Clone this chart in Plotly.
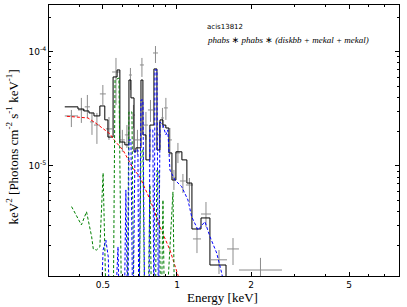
import numpy as np
import plotly.graph_objects as go

# ---- observed spectrum (keV ; keV^2 photons cm^-2 s^-1 keV^-1) ----
e_lo = [0.350, 0.396, 0.422, 0.443, 0.460, 0.486, 0.514, 0.545, 0.586, 0.614,
        0.638, 0.656, 0.675, 0.707, 0.734, 0.762, 0.799, 0.837, 0.861, 0.885,
        0.918, 0.954, 0.990, 1.028, 1.087, 1.161, 1.252, 1.374, 1.597, 1.786]
e_hi = [0.396, 0.422, 0.443, 0.460, 0.486, 0.514, 0.545, 0.586, 0.614, 0.638,
        0.656, 0.675, 0.707, 0.734, 0.762, 0.799, 0.837, 0.861, 0.885, 0.918,
        0.954, 0.990, 1.028, 1.087, 1.161, 1.252, 1.374, 1.597, 1.786, 2.67]
flux = [2.74e-5, 3.09e-5, 3.29e-5, 2.43e-5, 2.28e-5, 4.27e-5, 2.11e-5, 6.64e-5, 1.69e-5, 1.87e-5,
        6.25e-5, 2.79e-5, 1.69e-5, 7.65e-5, 2.28e-5, 3.09e-5, 9.74e-5, 1.87e-5, 2.63e-5, 3.22e-5,
        1.69e-5, 7.85e-6, 1.30e-5, 7.39e-6, 6.82e-6, 2.30e-6, 3.80e-6, 1.51e-6, 1.88e-6, 1.23e-6]
flux_up = [3.09e-5, 3.94e-5, 4.18e-5, 2.91e-5, 2.91e-5, 5.11e-5, 2.68e-5, 8.81e-5, 2.07e-5, 2.28e-5,
           7.20e-5, 3.42e-5, 2.07e-5, 8.81e-5, 2.97e-5, 3.78e-5, 1.12e-4, 2.43e-5, 3.22e-5, 3.94e-5,
           2.15e-5, 9.23e-6, 1.59e-5, 8.51e-6, 7.85e-6, 2.87e-6, 4.84e-6, 1.84e-6, 2.34e-6, 1.57e-6]
flux_dn = [2.19e-5, 2.38e-5, 2.63e-5, 1.87e-5, 1.56e-5, 3.42e-5, 1.69e-5, 3.42e-5, 1.33e-5, 1.44e-5,
           4.62e-5, 2.15e-5, 1.25e-5, 6.01e-5, 1.69e-5, 2.43e-5, 7.96e-5, 1.38e-5, 2.15e-5, 2.53e-5,
           1.25e-5, 6.17e-6, 1.06e-5, 5.80e-6, 4.75e-6, 1.73e-6, 2.93e-6, 1.135e-6, 1.36e-6, 9.1e-7]

# ---- total model (binned) ----
model_edges = [0.350, 0.396, 0.418, 0.439, 0.460, 0.486, 0.509, 0.524, 0.550, 0.571,
               0.586, 0.614, 0.638, 0.650, 0.669, 0.681, 0.714, 0.727, 0.748, 0.776,
               0.806, 0.829, 0.853, 0.877, 0.901, 0.927, 0.954, 0.990, 1.047, 1.097,
               1.150, 1.252, 1.361, 1.582]
model_vals = [3.29e-5, 3.15e-5, 3.03e-5, 2.91e-5, 2.74e-5, 3.35e-5, 2.53e-5, 1.79e-5, 6.01e-5, 6.92e-5,
              1.62e-5, 1.53e-5, 5.65e-5, 3.94e-5, 1.33e-5, 1.44e-5, 5.65e-5, 1.87e-5, 1.13e-5, 2.28e-5,
              7.06e-5, 1.38e-5, 2.53e-5, 2.28e-5, 2.15e-5, 1.30e-5, 7.54e-6, 1.33e-5, 1.13e-5, 7.09e-6,
              2.81e-6, 3.51e-6, 1.36e-6]
MODEL_FLOOR = 1e-7

# ---- model components ----
disk_e = [0.357, 0.378, 0.435, 0.473, 0.534, 0.560, 0.603, 0.662, 0.707, 0.762, 0.798, 0.853, 0.936, 1.009, 1.067]
disk_f = [2.72e-5, 2.70e-5, 2.63e-5, 2.33e-5, 1.91e-5, 1.65e-5, 1.38e-5, 9.6e-6, 8.0e-6, 5.58e-6,
          4.38e-6, 2.93e-6, 1.84e-6, 1.11e-6, 8.2e-7]

mek1_e = [0.373, 0.391, 0.409, 0.429, 0.450, 0.457, 0.471, 0.486, 0.501, 0.519,
          0.550, 0.560, 0.581, 0.597, 0.626, 0.638, 0.656, 0.669, 0.700, 0.714,
          0.727, 0.741, 0.762, 0.776, 0.791, 0.814, 0.829, 0.845, 0.861, 0.877,
          0.893, 0.963, 0.981]
mek1_f = [4.41e-6, 3.60e-6, 3.05e-6, 3.98e-6, 2.41e-6, 1.88e-6, 1.84e-6, 1.96e-6, 8.68e-6, 3e-7,
          3e-7, 5.65e-5, 5.88e-5, 3e-7, 3e-7, 2.97e-5, 2.97e-5, 3e-7, 3e-7, 1.38e-5,
          1.38e-5, 3e-7, 3e-7, 6.82e-6, 3e-7, 3e-7, 9.23e-6, 9.23e-6, 3e-7, 5.04e-6,
          3e-7, 5.93e-6, 3e-7]

mek2_e = [0.486, 0.501, 0.514, 0.526, 0.534, 0.555, 0.576, 0.586, 0.609, 0.620,
          0.632, 0.638, 0.650, 0.662, 0.675, 0.694, 0.700, 0.714, 0.727, 0.741,
          0.769, 0.776, 0.798, 0.806, 0.814, 0.829, 0.841, 0.853, 0.877, 0.901,
          0.918, 0.936, 0.981, 1.045, 1.108, 1.147, 1.217, 1.299, 1.361, 1.450,
          1.519, 1.567]
mek2_f = [3e-7, 1.84e-6, 2.25e-6, 1.59e-6, 3e-7, 3e-7, 1.96e-6, 3e-7, 3e-7, 6.17e-6,
          3e-7, 1.69e-5, 1.69e-5, 3e-7, 1.38e-5, 1.38e-5, 3e-7, 3.78e-5, 3.78e-5, 3e-7,
          3e-7, 2.07e-5, 2.07e-5, 3e-7, 6.92e-5, 6.92e-5, 3e-7, 2.43e-5, 2.28e-5, 1.87e-5,
          2.07e-5, 9.23e-6, 7.54e-6, 6.59e-6, 5.04e-6, 3.60e-6, 2.75e-6, 3.26e-6, 2.41e-6, 1.73e-6,
          1.16e-6, 8.2e-7]

# axis settings
x_range = [0.302, 7.98]
y_range = [1.09e-6, 2.56e-4]
x_major = [0.5, 1, 2, 5]
x_major_text = ['0.5', '1', '2', '5']
x_minor = [0.3, 0.4, 0.6, 0.7, 0.8, 0.9, 3, 4, 6, 7, 8]
y_major = [1e-5, 1e-4]
y_major_text = ['10<sup>-5</sup>', '10<sup>-4</sup>']
y_minor = [m * 10.0 ** d for d in (-6, -5, -4) for m in range(2, 10)]

fig = go.Figure()

# data crosses
lo = np.array(e_lo); hi = np.array(e_hi)
xc = np.sqrt(lo * hi)
f = np.array(flux)
grey = 'rgb(140,140,140)'
fig.add_trace(go.Scatter(
    x=xc, y=f, mode='markers',
    marker=dict(size=1, color='rgba(0,0,0,0)'),
    error_x=dict(type='data', symmetric=False, array=hi - xc, arrayminus=xc - lo,
                 width=0, thickness=1, color=grey),
    error_y=dict(type='data', symmetric=False, array=np.array(flux_up) - f,
                 arrayminus=f - np.array(flux_dn), width=0, thickness=1, color=grey),
    hoverinfo='skip'))

# total model as step
mx = list(model_edges) + [model_edges[-1]]
my = list(model_vals) + [model_vals[-1], MODEL_FLOOR]
fig.add_trace(go.Scatter(x=mx, y=my, mode='lines', line=dict(color='black', width=1, shape='hv')))

dash = '3px,2px'
fig.add_trace(go.Scatter(x=disk_e, y=disk_f, mode='lines', line=dict(color='red', width=1, dash=dash)))
fig.add_trace(go.Scatter(x=mek1_e, y=mek1_f, mode='lines', line=dict(color='green', width=1, dash=dash)))
fig.add_trace(go.Scatter(x=mek2_e, y=mek2_f, mode='lines', line=dict(color='blue', width=1, dash=dash)))

axis_common = dict(ticks='inside', tickcolor='black', ticklen=4, showline=True, linecolor='black',
                   linewidth=1, mirror='allticks', showgrid=False, zeroline=False,
                   tickfont=dict(family='DejaVu Sans', size=9, color='black'))
fig.update_xaxes(type='log', range=[np.log10(x_range[0]), np.log10(x_range[1])],
                 tickvals=x_major, ticktext=x_major_text,
                 minor=dict(tickvals=x_minor, ticks='inside', ticklen=2, tickcolor='black', showgrid=False),
                 **axis_common)
fig.update_yaxes(type='log', range=[np.log10(y_range[0]), np.log10(y_range[1])],
                 tickvals=y_major, ticktext=y_major_text,
                 minor=dict(tickvals=y_minor, ticks='inside', ticklen=2, tickcolor='black', showgrid=False),
                 **axis_common)

star = '<span style="font-family:DejaVu Sans;font-style:normal">∗</span>'
model_text = ('<i>phabs ' + star + ' phabs ' + star + ' (diskbb + mekal + mekal)</i>')

fig.update_layout(
    width=407, height=307, margin=dict(l=49, r=8, t=5, b=31),
    plot_bgcolor='white', paper_bgcolor='white', showlegend=False,
    annotations=[
        dict(text='acis13812', xref='paper', yref='paper', x=0.446, y=0.919,
             xanchor='left', yanchor='middle', showarrow=False,
             font=dict(family='DejaVu Sans', size=7, color='black')),
        dict(text=model_text, xref='paper', yref='paper',
             x=0.446, y=0.871, xanchor='left', yanchor='middle', showarrow=False,
             font=dict(family='Liberation Serif', size=9, color='black')),
        dict(text='Energy [keV]', xref='paper', yref='paper', x=0.497, y=-0.081,
             xanchor='center', yanchor='middle', showarrow=False,
             font=dict(family='Liberation Serif', size=13, color='black')),
        dict(text='keV<sup>2</sup> [Photons cm<sup>-2</sup> s<sup>-1</sup> keV<sup>-1</sup>]',
             xref='paper', yref='paper', x=-0.103, y=0.478, textangle=-90,
             xanchor='center', yanchor='middle', showarrow=False,
             font=dict(family='Liberation Serif', size=13, color='black')),
    ])

fig.write_html('out.html',
               config={'displayModeBar': False, 'staticPlot': True},
               post_script="document.body.style.margin='0px';document.body.style.overflow='hidden';")
